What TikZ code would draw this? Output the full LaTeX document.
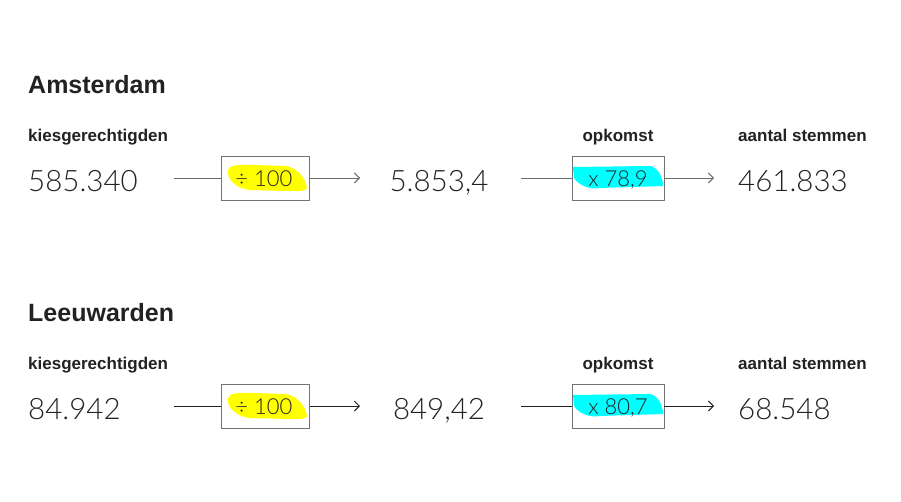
\documentclass[tikz,border=0pt]{standalone}
\usepackage{fontspec}
\setmainfont{Liberation Sans}
\newfontfamily\lightfont{Lato Light}
\usetikzlibrary{arrows.meta}
\definecolor{txt}{HTML}{222222}
\definecolor{hlyellow}{HTML}{FFFF00}
\definecolor{hlcyan}{HTML}{00FFFF}
\begin{document}
\begin{tikzpicture}[x=1pt,y=-1pt,
  title/.style={anchor=base west,font=\bfseries\fontsize{25}{28}\selectfont,text=txt,inner sep=0},
  lbl/.style={anchor=base,font=\bfseries\fontsize{17}{19}\selectfont,text=txt,inner sep=0},
  num/.style={anchor=base,font=\lightfont\fontsize{29.5}{32}\selectfont,text=txt,inner sep=0},
  optext/.style={anchor=base,font=\lightfont\fontsize{22}{24}\selectfont,text=txt,inner sep=0},
  opbox/.style={draw=gray!90!black,line width=0.9pt,minimum width=88pt,minimum height=44pt,inner sep=0},
  conn/.style={line width=1pt,-{Straight Barb[length=5pt,width=10pt]}},
  plain/.style={line width=1pt},
]
\useasboundingbox (0,0) rectangle (901,501);
\fill[white] (0,0) rectangle (901,501);

% ---------- Amsterdam ----------
\node[title] (t1) at (28,93) {Amsterdam};
\node[lbl,anchor=base west] (k1) at (28,141) {kiesgerechtigden};
\node[lbl] (o1) at (618,141) {opkomst};
\node[lbl,anchor=base west] (a1) at (738,141) {aantal stemmen};
\node[num,anchor=base west] (n1) at (28,191) {585.340};
\fill[hlyellow] (228,170) .. controls (230,164) and (240,165) .. (255,165) -- (285,166) .. controls (298,167) and (306,180) .. (307,188) .. controls (307,191) and (300,191) .. (290,191) -- (250,190) .. controls (238,189) and (226,180) .. (228,170) -- cycle;
\node[opbox] (b1) at (265.5,178) {};
\node[optext] (bt1) at (264,186.5) {÷ 100};
\node[num] (m1) at (439,191) {5.853,4};
\fill[hlcyan] (573,167) -- (650,166) .. controls (658,167) and (663,178) .. (663,186) -- (600,188) .. controls (590,190) and (578,185) .. (574,178) -- cycle;
\node[opbox,minimum width=92pt] (c1) at (618,178) {};
\node[optext] (ct1) at (618,186.5) {x 78,9};
\node[num,anchor=base west] (r1) at (738,191) {461.833};
\coordinate (s1) at (174,178);
\coordinate (s2) at (521,178);
\draw[plain,gray!85!black] (s1) -- (b1.west);
\draw[conn,gray!85!black] (b1.east) -- (360,178) coordinate (e1);
\draw[plain,gray!85!black] (s2) -- (c1.west);
\draw[conn,gray!85!black] (c1.east) -- (714,178) coordinate (e2);

% ---------- Leeuwarden ----------
\node[title] (t2) at (28,321) {Leeuwarden};
\node[lbl,anchor=base west] (k2) at (28,369) {kiesgerechtigden};
\node[lbl] (o2) at (618,369) {opkomst};
\node[lbl,anchor=base west] (a2) at (738,369) {aantal stemmen};
\node[num,anchor=base west] (n2) at (28,419) {84.942};
\fill[hlyellow] (228,398) .. controls (230,392) and (240,393) .. (255,393) -- (285,394) .. controls (298,395) and (306,408) .. (307,416) .. controls (307,419) and (300,419) .. (290,419) -- (250,418) .. controls (238,417) and (226,408) .. (228,398) -- cycle;
\node[opbox] (b2) at (265.5,406) {};
\node[optext] (bt2) at (264,414.5) {÷ 100};
\node[num] (m2) at (439,419) {849,42};
\fill[hlcyan] (573,395) -- (650,394) .. controls (658,395) and (663,406) .. (663,414) -- (600,416) .. controls (590,418) and (578,413) .. (574,406) -- cycle;
\node[opbox,minimum width=92pt] (c2) at (618,406) {};
\node[optext] (ct2) at (618,414.5) {x 80,7};
\node[num,anchor=base west] (r2) at (738,419) {68.548};
\coordinate (s3) at (174,406);
\coordinate (s4) at (521,406);
\draw[plain,txt] (s3) -- (b2.west);
\draw[conn,txt] (b2.east) -- (360,406) coordinate (e3);
\draw[plain,txt] (s4) -- (c2.west);
\draw[conn,txt] (c2.east) -- (714,406) coordinate (e4);
\end{tikzpicture}
\end{document}
